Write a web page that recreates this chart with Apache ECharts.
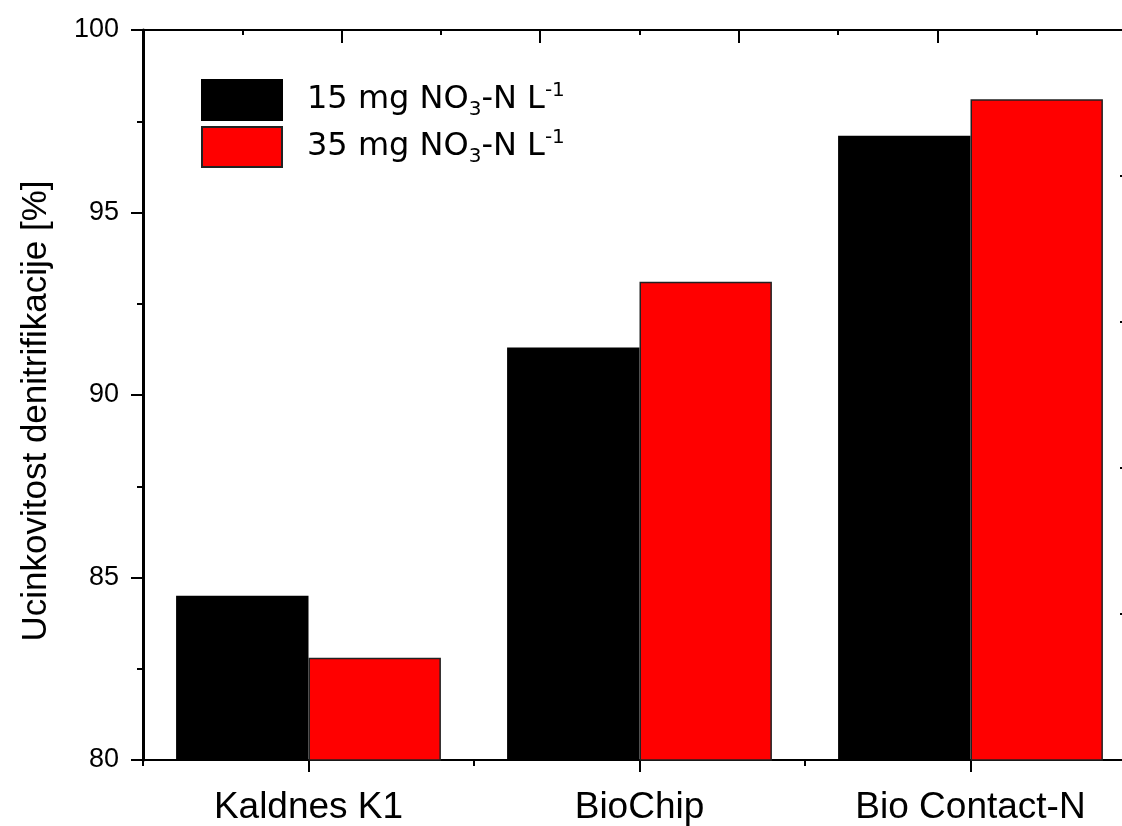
<!DOCTYPE html>
<html>
<head>
<meta charset="utf-8">
<script src="https://cdn.jsdelivr.net/npm/echarts@6/dist/echarts.min.js"></script>
<style>html,body{margin:0;padding:0;background:#fff;overflow:hidden;width:1122px;height:826px;}#c{width:1150px;height:826px;}</style>
</head>
<body>
<div id="c"></div>
<script>
const categories = ['Kaldnes K1', 'BioChip', 'Bio Contact-N'];
const series15 = [84.5, 91.3, 97.1];
const series35 = [82.8, 93.1, 98.1];
const seriesNames = ['15 mg NO3-N L-1', '35 mg NO3-N L-1'];
const yTitle = 'Ucinkovitost denitrifikacije [%]';

const chart = echarts.init(document.getElementById('c'));
const axisFont = 'Liberation Sans, Arial, sans-serif';
const legendFont = 'DejaVu Sans, Verdana, sans-serif';

chart.setOption({
  animation: false,
  backgroundColor: '#fff',
  grid: { left: 143, top: 30, bottom: 66, right: 14, containLabel: false },
  legend: {
    left: 196, top: 74, orient: 'vertical',
    icon: 'rect', itemWidth: 80, itemHeight: 40, itemGap: 5,
    data: seriesNames,
    formatter: function (name) {
      const m = name.match(/^(\d+ mg NO)3(-N L)-1$/);
      return '{g|}{a|' + m[1] + '}{sub|3}{a|' + m[2] + '}{sup|-1}';
    },
    textStyle: {
      rich: {
        g: { width: 20, height: 10 },
        a: { fontFamily: legendFont, fontSize: 32, color: '#000', lineHeight: 40, verticalAlign: 'middle' },
        sub: { fontFamily: legendFont, fontSize: 20, color: '#000', lineHeight: 40, verticalAlign: 'bottom' },
        sup: { fontFamily: legendFont, fontSize: 20, color: '#000', lineHeight: 40, verticalAlign: 'top', padding: [1, 0, 0, 0] }
      }
    }
  },
  xAxis: [
    {
      type: 'category', data: categories, position: 'bottom', offset: 0,
      axisLine: { lineStyle: { color: '#000', width: 2 } },
      axisTick: { show: true, length: 6, lineStyle: { color: '#000', width: 2 } },
      axisLabel: { fontFamily: axisFont, fontSize: 37, color: '#000', margin: 29 },
      splitLine: { show: false }
    },
    {
      type: 'category', data: categories, position: 'bottom', offset: 0,
      axisLine: { show: false },
      axisTick: { show: true, alignWithLabel: true, length: 12, lineStyle: { color: '#000', width: 2 } },
      axisLabel: { show: false },
      splitLine: { show: false }
    },
    {
      type: 'value', position: 'top', min: 0, max: 5, interval: 1,
      axisLine: { show: true, lineStyle: { color: '#000', width: 2 } },
      axisTick: { show: true, inside: true, length: 13, lineStyle: { color: '#000', width: 2 } },
      minorTick: { show: true, splitNumber: 2, length: 5, lineStyle: { color: '#000', width: 2 } },
      axisLabel: { show: false },
      splitLine: { show: false }
    }
  ],
  yAxis: [
    {
      type: 'value', min: 80, max: 100, interval: 5, position: 'left',
      name: yTitle, nameLocation: 'middle', nameGap: 89,
      nameTextStyle: { fontFamily: axisFont, fontSize: 35, color: '#000', padding: [0, 32, 0, 0] },
      axisLine: { show: true, lineStyle: { color: '#000', width: 3 } },
      axisTick: { show: true, length: 12, lineStyle: { color: '#000', width: 2 } },
      minorTick: { show: true, splitNumber: 2, length: 6, lineStyle: { color: '#000', width: 2 } },
      axisLabel: { fontFamily: axisFont, fontSize: 27, color: '#000', margin: 24 },
      splitLine: { show: false }
    },
    {
      type: 'value', min: 80, max: 100, interval: 4, position: 'right',
      axisLine: { show: true, lineStyle: { color: '#000', width: 2 } },
      axisTick: { show: true, inside: true, length: 16, lineStyle: { color: '#000', width: 2 } },
      axisLabel: { show: false },
      splitLine: { show: false }
    }
  ],
  series: [
    {
      name: seriesNames[0], type: 'bar', data: series15,
      xAxisIndex: 0, yAxisIndex: 0,
      barGap: '0%', barCategoryGap: '20%',
      itemStyle: { color: '#000000', borderColor: '#000', borderWidth: 1.5 }
    },
    {
      name: seriesNames[1], type: 'bar', data: series35,
      xAxisIndex: 0, yAxisIndex: 0,
      barGap: '0%', barCategoryGap: '20%',
      itemStyle: { color: '#ff0000', borderColor: '#222', borderWidth: 1.5 }
    }
  ]
});
</script>
</body>
</html>
